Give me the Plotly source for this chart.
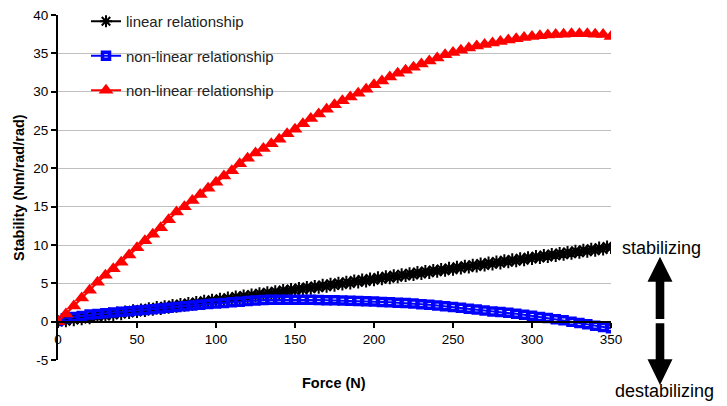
import plotly.graph_objects as go

# ---------------- data ----------------
force_5 = [i * 5 for i in range(71)]  # 0..350 N, step 5

red_nonlinear = [
    0.0, 1.0, 2.05, 3.1, 4.1, 5.15, 6.05, 6.9, 7.75, 8.7,
    9.65, 10.55, 11.4, 12.25, 13.3, 14.3, 15.0, 15.8, 16.6, 17.4,
    18.2, 19.0, 19.7, 20.6, 21.3, 22.0, 22.6, 23.2, 23.8, 24.5,
    25.1, 25.8, 26.5, 27.1, 27.7, 28.3, 28.8, 29.3, 29.8, 30.3,
    30.9, 31.4, 31.9, 32.4, 32.8, 33.2, 33.6, 34.0, 34.4, 34.8,
    35.1, 35.4, 35.7, 35.95, 36.15, 36.35, 36.55, 36.75, 36.9, 37.05,
    37.2, 37.3, 37.4, 37.45, 37.5, 37.55, 37.55, 37.55, 37.5, 37.45,
    37.2,
]

blue_nonlinear = [
    0.1, 0.45, 0.6, 0.75, 0.92, 1.0, 1.1, 1.2, 1.28, 1.35,
    1.45, 1.53, 1.62, 1.72, 1.82, 1.92, 2.0, 2.1, 2.22, 2.3,
    2.36, 2.45, 2.53, 2.6, 2.68, 2.76, 2.82, 2.85, 2.86, 2.86,
    2.86, 2.86, 2.85, 2.84, 2.8, 2.78, 2.76, 2.74, 2.7, 2.66,
    2.62, 2.58, 2.52, 2.47, 2.42, 2.36, 2.28, 2.2, 2.1, 2.0,
    1.9, 1.8, 1.7, 1.58, 1.45, 1.33, 1.25, 1.15, 1.02, 0.9,
    0.76, 0.62, 0.48, 0.33, 0.18, 0.0, -0.18, -0.35, -0.52, -0.68,
    -0.85,
]

force_2_5 = [i * 2.5 for i in range(141)]  # 0..350 N, step 2.5

black_linear = [
    0.00, 0.18, 0.05, 0.34, 0.20, 0.48, 0.33, 0.62, 0.45, 0.78,
    0.60, 0.90, 0.72, 1.05, 0.88, 1.20, 0.98, 1.32, 1.12, 1.48,
    1.27, 1.60, 1.40, 1.75, 1.55, 1.90, 1.66, 2.02, 1.82, 2.18,
    1.95, 2.30, 2.08, 2.45, 2.22, 2.58, 2.36, 2.72, 2.50, 2.86,
    2.62, 3.00, 2.78, 3.14, 2.90, 3.28, 3.05, 3.42, 3.18, 3.55,
    3.32, 3.70, 3.45, 3.84, 3.60, 3.96, 3.74, 4.12, 3.88, 4.25,
    4.02, 4.40, 4.15, 4.53, 4.30, 4.66, 4.42, 4.80, 4.56, 4.95,
    4.70, 5.08, 4.84, 5.22, 4.98, 5.36, 5.12, 5.50, 5.25, 5.64,
    5.40, 5.78, 5.52, 5.92, 5.66, 6.05, 5.80, 6.20, 5.95, 6.33,
    6.08, 6.47, 6.22, 6.60, 6.36, 6.75, 6.50, 6.88, 6.64, 7.02,
    6.78, 7.16, 6.92, 7.30, 7.05, 7.44, 7.20, 7.58, 7.33, 7.72,
    7.47, 7.86, 7.60, 8.00, 7.74, 8.13, 7.88, 8.27, 8.02, 8.41,
    8.16, 8.55, 8.30, 8.69, 8.44, 8.82, 8.58, 8.96, 8.72, 9.10,
    8.85, 9.24, 8.99, 9.38, 9.12, 9.52, 9.26, 9.66, 9.40, 9.80,
    9.62,
]

series_names = ["linear relationship", "non-linear relationship", "non-linear relationship"]
x_ticks = [0, 50, 100, 150, 200, 250, 300, 350]
y_ticks = [-5, 0, 5, 10, 15, 20, 25, 30, 35, 40]

# ---------------- layout geometry ----------------
W, H = 727, 406
L, R, T, B = 58, 116, 15, 46
PW, PH = W - L - R, H - T - B


def px(xp):
    return (xp - L) / PW


def py(yp):
    return (H - B - yp) / PH


FONT = "Liberation Sans, Arial, sans-serif"

fig = go.Figure()

fig.add_trace(go.Scatter(
    x=force_2_5, y=black_linear, name=series_names[0], mode="lines+markers",
    line=dict(color="black", width=2),
    marker=dict(symbol="asterisk-open", size=10, color="black", line=dict(color="black", width=2)),
    legendgroup="a",
))
fig.add_trace(go.Scatter(
    x=force_5, y=blue_nonlinear, name=series_names[1], mode="lines+markers",
    line=dict(color="#0000ff", width=2),
    marker=dict(symbol="square-open", size=7, color="#0000ff", line=dict(color="#0000ff", width=3.5)),
    legendgroup="b",
))
fig.add_trace(go.Scatter(
    x=force_5, y=red_nonlinear, name=series_names[2], mode="lines+markers",
    line=dict(color="#ff0000", width=2),
    marker=dict(symbol="triangle-up", size=13, color="#ff0000"),
    legendgroup="c",
))

# double arrow (stabilizing / destabilizing)
cx = 660
hw, sw = 12.5, 4.3
up = (f"M {px(cx):.5f} {py(256.7):.5f} L {px(cx+hw):.5f} {py(281.7):.5f} "
      f"L {px(cx+sw):.5f} {py(281.7):.5f} L {px(cx+sw):.5f} {py(319):.5f} "
      f"L {px(cx-sw):.5f} {py(319):.5f} L {px(cx-sw):.5f} {py(281.7):.5f} "
      f"L {px(cx-hw):.5f} {py(281.7):.5f} Z")
down = (f"M {px(cx):.5f} {py(385):.5f} L {px(cx+hw):.5f} {py(359.3):.5f} "
        f"L {px(cx+sw):.5f} {py(359.3):.5f} L {px(cx+sw):.5f} {py(323.3):.5f} "
        f"L {px(cx-sw):.5f} {py(323.3):.5f} L {px(cx-sw):.5f} {py(359.3):.5f} "
        f"L {px(cx-hw):.5f} {py(359.3):.5f} Z")
for p in (up, down):
    fig.add_shape(type="path", path=p, xref="paper", yref="paper",
                  fillcolor="black", line=dict(color="black", width=0))

fig.add_annotation(text="stabilizing", x=px(661), y=py(248), xref="paper", yref="paper",
                   showarrow=False, font=dict(family=FONT, size=18, color="black"),
                   xanchor="center", yanchor="middle")
fig.add_annotation(text="destabilizing", x=px(664), y=py(391), xref="paper", yref="paper",
                   showarrow=False, font=dict(family=FONT, size=18, color="black"),
                   xanchor="center", yanchor="middle")
fig.add_annotation(text="<b>Force (N)</b>", x=px(334), y=py(383), xref="paper", yref="paper",
                   showarrow=False, font=dict(family=FONT, size=14.5, color="black"),
                   xanchor="center", yanchor="middle")
fig.add_annotation(text="<b>Stability (Nm/rad/rad)</b>", x=px(19), y=py(188), xref="paper", yref="paper",
                   showarrow=False, textangle=-90, font=dict(family=FONT, size=14.5, color="black"),
                   xanchor="center", yanchor="middle")

fig.update_layout(
    width=W, height=H,
    margin=dict(l=L, r=R, t=T, b=B, pad=0, autoexpand=False),
    paper_bgcolor="white", plot_bgcolor="white",
    font=dict(family=FONT, size=13.5, color="black"),
    showlegend=True,
    legend=dict(
        xref="paper", yref="paper",
        x=px(86), y=py(5), xanchor="left", yanchor="top",
        bgcolor="rgba(0,0,0,0)", borderwidth=0,
        font=dict(family=FONT, size=15, color="#222222"),
        traceorder="grouped", tracegroupgap=12,
        itemwidth=30,
    ),
    xaxis=dict(
        range=[0, 350], tickvals=x_ticks, ticktext=[str(v) for v in x_ticks],
        anchor="free", position=5 / 45,
        showline=True, linecolor="black", linewidth=2,
        ticks="outside", ticklen=5, tickwidth=2, tickcolor="black",
        showgrid=False, zeroline=False,
        tickfont=dict(family=FONT, size=13.5, color="black"),
    ),
    yaxis=dict(
        range=[-5, 40], tickvals=y_ticks, ticktext=[str(v) for v in y_ticks],
        showline=True, linecolor="black", linewidth=2,
        ticks="outside", ticklen=5, tickwidth=2, tickcolor="black",
        showgrid=True, gridcolor="#c0c0c0", gridwidth=1,
        zeroline=False,
        tickfont=dict(family=FONT, size=13.5, color="black"),
    ),
)

fig.write_html("out.html", config={"displayModeBar": False},
               post_script="document.body.style.margin='0px';")
